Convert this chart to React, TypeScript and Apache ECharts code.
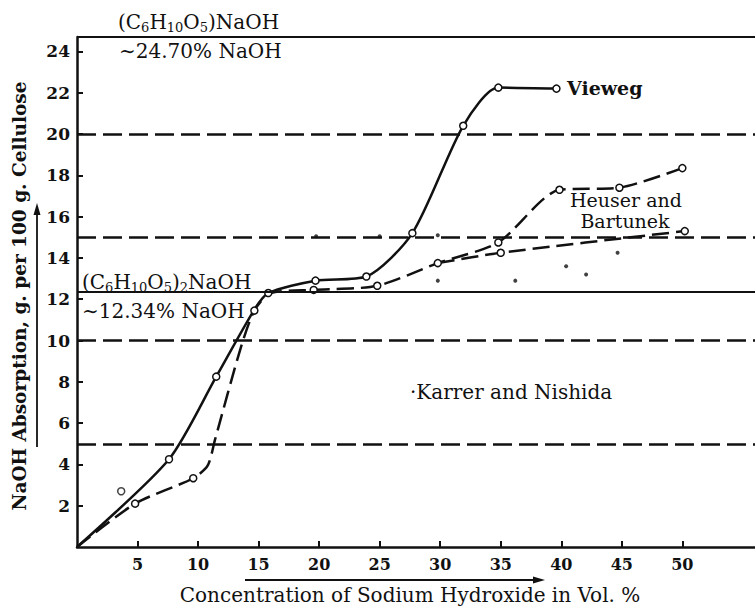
import React, { useEffect, useRef } from "react";
import * as echarts from "echarts";

// Axis ticks
const xTickValues = [5, 10, 15, 20, 25, 30, 35, 40, 45, 50];
const yTickValues = [2, 4, 6, 8, 10, 12, 14, 16, 18, 20, 22, 24];

// Reference levels
const dashedLevels = [5, 10, 15, 20];
const solidLevels = [12.34, 24.7];

// Vieweg (solid curve); 1 = measured point drawn as open circle
const viewegX = [0, 7.6, 11.5, 14.65, 15.8, 19.7, 23.9, 27.7, 31.9, 34.8, 39.6];
const viewegY = [0, 4.25, 8.25, 11.5, 12.3, 12.9, 13.1, 15.2, 20.4, 22.25, 22.2];
const viewegMark = [0, 1, 1, 0, 1, 1, 1, 1, 1, 1, 1];
const viewegLoneX = [3.65];
const viewegLoneY = [2.7];

// Heuser and Bartunek (dashed curves)
const heuserX = [0, 4.8, 9.6, 10.8, 11.4, 13.5, 14.65, 16.0, 19.55, 24.8, 29.8, 34.8, 39.85, 44.8, 50.0];
const heuserY = [0, 2.1, 3.33, 3.95, 5.2, 9.6, 11.45, 12.3, 12.45, 12.65, 13.75, 14.75, 17.3, 17.4, 18.35];
const heuserMark = [0, 1, 1, 0, 0, 0, 1, 0, 1, 1, 1, 1, 1, 1, 1];
const heuser2X = [29.8, 35.0, 50.2];
const heuser2Y = [13.75, 14.25, 15.3];
const heuser2Mark = [0, 1, 1];

// Karrer and Nishida (dots)
const karrerX = [19.75, 25.0, 29.8, 29.8, 36.2, 40.4, 42.05, 44.65];
const karrerY = [15.05, 15.05, 15.1, 12.9, 12.9, 13.6, 13.2, 14.25];

const FONT = "'DejaVu Serif', 'Liberation Serif', serif";
const INK = "#111";

function toItems(xs: number[], ys: number[], marks: number[]) {
  return xs.map((x, i) => ({ value: [x, ys[i]], symbol: marks[i] ? "circle" : "none" }));
}

const formulaRich = {
  a: { fontFamily: FONT, fontSize: 20, lineHeight: 24, fill: INK },
  s: { fontFamily: FONT, fontSize: 13, lineHeight: 13, verticalAlign: "bottom", fill: INK },
};

export default function App() {
  const ref = useRef<HTMLDivElement>(null);
  useEffect(() => {
    if (!ref.current) return;
    const chart = echarts.init(ref.current, null, { renderer: "svg" });
    const circleStyle = { color: "#fff", borderColor: INK, borderWidth: 1.5 };
    chart.setOption({
      animation: false,
      backgroundColor: "#fff",
      grid: { left: 77, right: 0, top: 37, bottom: 60 },
      xAxis: {
        type: "value",
        min: 0,
        max: 56,
        splitLine: { show: false },
        axisLine: { lineStyle: { color: INK, width: 2.5 } },
        axisTick: { inside: true, length: 6, customValues: xTickValues, lineStyle: { color: INK, width: 2 } },
        axisLabel: {
          customValues: xTickValues,
          margin: 9,
          color: INK,
          fontFamily: FONT,
          fontWeight: "bold",
          fontSize: 16,
        },
      },
      yAxis: {
        type: "value",
        min: 0,
        max: 24.7,
        splitLine: { show: false },
        axisLine: { lineStyle: { color: INK, width: 2.5 } },
        axisTick: { inside: true, length: 6, customValues: yTickValues, lineStyle: { color: INK, width: 2 } },
        axisLabel: {
          customValues: yTickValues,
          margin: 7,
          color: INK,
          fontFamily: FONT,
          fontWeight: "bold",
          fontSize: 17,
        },
      },
      series: [
        {
          name: "refs",
          type: "line",
          data: [],
          clip: false,
          markLine: {
            silent: true,
            symbol: "none",
            label: { show: false },
            data: [
              ...dashedLevels.map((v) => ({ yAxis: v, lineStyle: { color: INK, width: 2.5, type: [19, 7] } })),
              ...solidLevels.map((v) => ({ yAxis: v, lineStyle: { color: INK, width: 2.2, type: "solid" } })),
            ],
          },
        },
        {
          name: "Vieweg",
          type: "line",
          smooth: 0.25,
          data: toItems(viewegX, viewegY, viewegMark),
          symbolSize: 7,
          lineStyle: { color: INK, width: 2.5 },
          itemStyle: circleStyle,
          z: 4,
        },
        {
          name: "Vieweg extra",
          type: "scatter",
          data: viewegLoneX.map((x, i) => [x, viewegLoneY[i]]),
          symbol: "circle",
          symbolSize: 7,
          itemStyle: circleStyle,
          z: 5,
        },
        {
          name: "Heuser and Bartunek",
          type: "line",
          smooth: 0.25,
          data: toItems(heuserX, heuserY, heuserMark),
          symbolSize: 7,
          lineStyle: { color: INK, width: 2.5, type: [17, 7] },
          itemStyle: circleStyle,
          z: 4,
        },
        {
          name: "Heuser and Bartunek 2",
          type: "line",
          smooth: 0.25,
          data: toItems(heuser2X, heuser2Y, heuser2Mark),
          symbolSize: 7,
          lineStyle: { color: INK, width: 2.5, type: [17, 7] },
          itemStyle: circleStyle,
          z: 4,
        },
        {
          name: "Karrer and Nishida",
          type: "scatter",
          data: karrerX.map((x, i) => [x, karrerY[i]]),
          symbol: "circle",
          symbolSize: 4,
          itemStyle: { color: INK },
          z: 5,
        },
      ],
      graphic: [
        {
          type: "text",
          x: 118,
          y: 22,
          style: {
            text: "{a|(C}{s|6}{a|H}{s|10}{a|O}{s|5}{a|)NaOH}",
            rich: formulaRich,
            verticalAlign: "middle",
            align: "left",
          },
        },
        {
          type: "text",
          x: 119,
          y: 51,
          style: { text: "∼24.70% NaOH", fontFamily: FONT, fontSize: 20, fill: INK, verticalAlign: "middle" },
        },
        {
          type: "text",
          x: 82,
          y: 282,
          style: {
            text: "{a|(C}{s|6}{a|H}{s|10}{a|O}{s|5}{a|)}{s|2}{a|NaOH}",
            rich: formulaRich,
            verticalAlign: "middle",
            align: "left",
          },
        },
        {
          type: "text",
          x: 82,
          y: 311,
          style: { text: "∼12.34% NaOH", fontFamily: FONT, fontSize: 20, fill: INK, verticalAlign: "middle" },
        },
        {
          type: "text",
          x: 567,
          y: 88,
          style: { text: "Vieweg", fontFamily: FONT, fontSize: 19, fontWeight: "bold", fill: INK, verticalAlign: "middle" },
        },
        {
          type: "text",
          x: 626,
          y: 200,
          style: { text: "Heuser and", fontFamily: FONT, fontSize: 19, fill: INK, align: "center", verticalAlign: "middle" },
        },
        {
          type: "text",
          x: 625,
          y: 221,
          style: { text: "Bartunek", fontFamily: FONT, fontSize: 19, fill: INK, align: "center", verticalAlign: "middle" },
        },
        {
          type: "text",
          x: 410,
          y: 392,
          style: { text: "·Karrer and Nishida", fontFamily: FONT, fontSize: 20, fill: INK, verticalAlign: "middle" },
        },
        {
          type: "text",
          x: 19,
          y: 296,
          rotation: Math.PI / 2,
          style: {
            text: "NaOH Absorption, g. per 100 g. Cellulose",
            fontFamily: FONT,
            fontSize: 18.5,
            fontWeight: "bold",
            fill: INK,
            align: "center",
            verticalAlign: "middle",
          },
        },
        {
          type: "text",
          x: 410,
          y: 595,
          style: {
            text: "Concentration of Sodium Hydroxide in Vol. %",
            fontFamily: FONT,
            fontSize: 20,
            fill: INK,
            align: "center",
            verticalAlign: "middle",
          },
        },
        { type: "line", shape: { x1: 37, y1: 447, x2: 37, y2: 212 }, style: { stroke: INK, lineWidth: 1.8 } },
        { type: "polygon", shape: { points: [[37, 203], [33.5, 215], [40.5, 215]] }, style: { fill: INK } },
        { type: "line", shape: { x1: 245, y1: 580, x2: 535, y2: 580 }, style: { stroke: INK, lineWidth: 1.8 } },
        { type: "polygon", shape: { points: [[545, 580], [533, 576.5], [533, 583.5]] }, style: { fill: INK } },
      ],
    });
    return () => chart.dispose();
  }, []);
  return (
    <div
      ref={ref}
      style={{ position: "fixed", left: 0, top: 0, width: 755, height: 607, background: "#fff" }}
    />
  );
}
